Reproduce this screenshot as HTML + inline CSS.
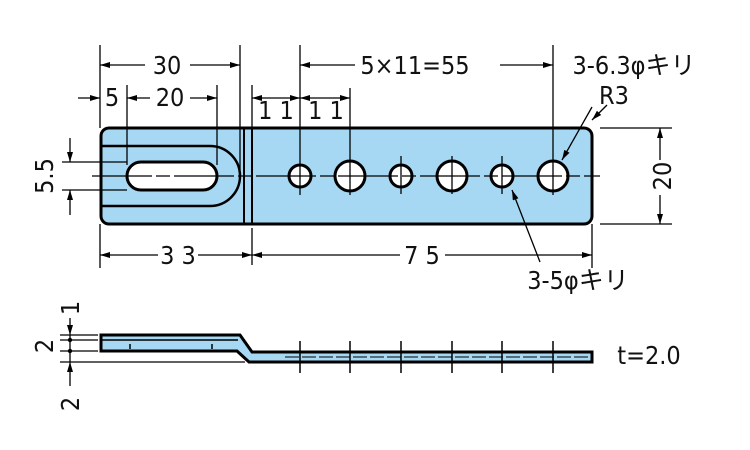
<!DOCTYPE html>
<html><head><meta charset="utf-8"><style>
html,body{margin:0;padding:0;background:#fff;width:750px;height:450px;overflow:hidden}
text{font-family:"DejaVu Sans Condensed","Liberation Sans Narrow","Liberation Sans","Noto Sans CJK JP",sans-serif;fill:#111}
</style></head><body>
<svg width="750" height="450" viewBox="0 0 750 450" xmlns="http://www.w3.org/2000/svg">
<defs>
<marker id="a" viewBox="0 0 10 6" refX="10" refY="3" markerWidth="11" markerHeight="6" orient="auto-start-reverse" markerUnits="userSpaceOnUse"><path d="M0,0 L10,3 L0,6z" fill="#000"/></marker>
</defs>
<g stroke="#000" fill="none" stroke-width="1.3">
<rect x="101" y="128" width="491" height="96" rx="8" fill="#a6d8f3" stroke-width="3"/>
<path d="M101,146 H210 A30,30 0 0 1 210,206 H101" stroke-width="2.5"/>
<rect x="127" y="162" width="90" height="28" rx="14" fill="#fff" stroke-width="3"/>
<line x1="244" y1="128" x2="244" y2="224" stroke-width="2"/>
<line x1="252" y1="128" x2="252" y2="224" stroke-width="2"/>
<g fill="#fff" stroke-width="3">
<circle cx="300" cy="176" r="11"/><circle cx="350" cy="176" r="15"/>
<circle cx="401" cy="176" r="11"/><circle cx="452" cy="176" r="15"/>
<circle cx="502" cy="176" r="11"/><circle cx="553" cy="176" r="15"/>
</g>
<line x1="92" y1="176" x2="600" y2="176" stroke-dasharray="60,4,14,4" stroke-width="1.2"/>
<line x1="300" y1="45" x2="300" y2="195"/><line x1="553" y1="45" x2="553" y2="195"/>
<line x1="350" y1="88" x2="350" y2="195"/>
<line x1="401" y1="156" x2="401" y2="194"/><line x1="452" y1="156" x2="452" y2="194"/><line x1="502" y1="156" x2="502" y2="194"/>
<line x1="100" y1="45" x2="100" y2="128"/><line x1="240" y1="45" x2="240" y2="170"/>
<line x1="127" y1="85" x2="127" y2="165"/><line x1="217" y1="85" x2="217" y2="165"/>
<line x1="252" y1="85" x2="252" y2="128"/>
<line x1="100" y1="224" x2="100" y2="268"/><line x1="252" y1="228" x2="252" y2="265"/><line x1="592" y1="224" x2="592" y2="268"/>
<line x1="600" y1="128" x2="672" y2="128"/><line x1="600" y1="224" x2="672" y2="224"/>
<line x1="62" y1="162" x2="127" y2="162"/><line x1="62" y1="190" x2="127" y2="190"/>
<line x1="100" y1="65" x2="145" y2="65" marker-start="url(#a)"/><line x1="190" y1="65" x2="240" y2="65" marker-end="url(#a)"/>
<line x1="300" y1="65" x2="355" y2="65" marker-start="url(#a)"/><line x1="500" y1="65" x2="553" y2="65" marker-end="url(#a)"/>
<line x1="78" y1="98" x2="100" y2="98" marker-end="url(#a)"/>
<line x1="127" y1="98" x2="150" y2="98" marker-start="url(#a)"/><line x1="190" y1="98" x2="217" y2="98" marker-end="url(#a)"/>
<line x1="252" y1="98" x2="300" y2="98" marker-start="url(#a)" marker-end="url(#a)"/>
<line x1="300" y1="98" x2="350" y2="98" marker-start="url(#a)" marker-end="url(#a)"/>
<line x1="100" y1="255" x2="158" y2="255" marker-start="url(#a)"/><line x1="198" y1="255" x2="252" y2="255" marker-end="url(#a)"/>
<line x1="252" y1="255" x2="400" y2="255" marker-start="url(#a)"/><line x1="445" y1="255" x2="592" y2="255" marker-end="url(#a)"/>
<line x1="660" y1="128" x2="660" y2="160" marker-start="url(#a)"/><line x1="660" y1="195" x2="660" y2="224" marker-end="url(#a)"/>
<line x1="70" y1="138" x2="70" y2="162" marker-end="url(#a)"/><line x1="70" y1="215" x2="70" y2="190" marker-end="url(#a)"/>
<line x1="592" y1="107" x2="562" y2="160" marker-end="url(#a)"/>
<line x1="607" y1="105" x2="592" y2="120" marker-end="url(#a)"/>
<line x1="540" y1="262" x2="512" y2="190" marker-end="url(#a)"/>
<path d="M101,335 H240 L252,352 H592 V362 H249 L237,351 H101 Z" fill="#a6d8f3" stroke-width="3"/>
<line x1="101" y1="340" x2="238" y2="340" stroke-width="1.5"/>
<line x1="130" y1="344" x2="130" y2="349" stroke-width="1.5"/><line x1="212" y1="344" x2="212" y2="349" stroke-width="1.5"/>
<line x1="285" y1="357" x2="592" y2="357" stroke-dasharray="14,3" stroke-width="1"/>
<g stroke-width="1.5">
<line x1="300" y1="341" x2="300" y2="373"/><line x1="350" y1="341" x2="350" y2="373"/><line x1="401" y1="341" x2="401" y2="373"/>
<line x1="452" y1="341" x2="452" y2="373"/><line x1="502" y1="341" x2="502" y2="373"/><line x1="553" y1="341" x2="553" y2="373"/>
</g>
<line x1="60" y1="335" x2="98" y2="335"/><line x1="60" y1="340" x2="98" y2="340"/>
<line x1="60" y1="351" x2="98" y2="351"/><line x1="60" y1="362" x2="245" y2="362"/>
<line x1="70" y1="318" x2="70" y2="335" marker-end="url(#a)"/>
<line x1="70" y1="335" x2="70" y2="362"/>
<line x1="70" y1="386" x2="70" y2="362" marker-end="url(#a)"/>
</g>
<circle cx="70" cy="340" r="2.2"/><circle cx="70" cy="351" r="2.2"/>
<g font-size="25">
<text x="167" y="74" text-anchor="middle">30</text>
<text x="415" y="74" text-anchor="middle">5×11=55</text>
<text x="112" y="106" text-anchor="middle">5</text>
<text x="170" y="106" text-anchor="middle">20</text>
<text x="276" y="119" text-anchor="middle">1 1</text>
<text x="326" y="119" text-anchor="middle">1 1</text>
<text x="178" y="264" text-anchor="middle">3 3</text>
<text x="422" y="264" text-anchor="middle">7 5</text>
<text x="634" y="74" text-anchor="middle">3-6.3φキリ</text>
<text x="614" y="104" text-anchor="middle">R3</text>
<text x="578" y="289" text-anchor="middle">3-5φキリ</text>
<text x="649" y="364" text-anchor="middle">t=2.0</text>
<text transform="translate(671,176) rotate(-90)" text-anchor="middle">20</text>
<text transform="translate(53,176) rotate(-90)" text-anchor="middle">5.5</text>
<text transform="translate(53,346) rotate(-90)" text-anchor="middle">2</text>
<text transform="translate(79,404) rotate(-90)" text-anchor="middle">2</text>
<text transform="translate(79,308) rotate(-90)" text-anchor="middle">1</text>
</g>
</svg>
</body></html>
